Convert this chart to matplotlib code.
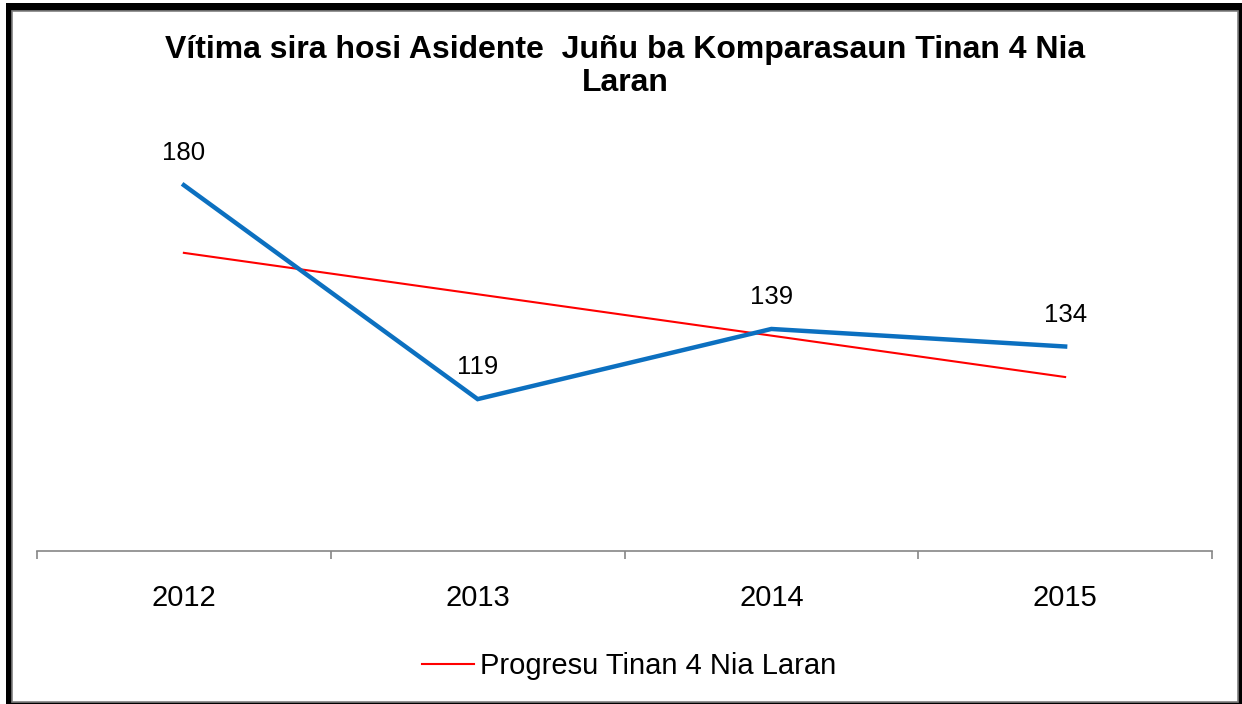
import matplotlib.pyplot as plt
import numpy as np
from matplotlib.patches import Rectangle

plt.rcParams['font.family'] = ['Liberation Sans', 'DejaVu Sans']

# ---------------- data ----------------
years = ['2012', '2013', '2014', '2015']
victims = [180, 119, 139, 134]
trend_label = 'Progresu Tinan 4 Nia Laran'
title = 'Vítima sira hosi Asidente  Juñu ba Komparasaun Tinan 4 Nia\nLaran'

W, H = 1242, 704
fig = plt.figure(figsize=(W / 100, H / 100), dpi=100)

# frame: thick black border with a thin grey inner edge
fig.add_artist(Rectangle((6 / W, -0.05), 1.1, 1 - 3 / H + 0.05,
                         transform=fig.transFigure, facecolor='black',
                         edgecolor='none', zorder=0))
fig.add_artist(Rectangle((12 / W, 1 - 702 / H), (1238 - 12) / W, (702 - 11) / H,
                         transform=fig.transFigure, facecolor='white',
                         edgecolor='#808080', linewidth=1.2, zorder=0))

ax = fig.add_axes([37 / W, 1 - 551 / H, (1212 - 37) / W, (551 - 115) / H])
ax.set_facecolor('none')

x = np.arange(len(years))
ax.plot(x, victims, color='#0C70C0', linewidth=3.2, solid_joinstyle='miter',
        zorder=3)

# linear trend line over the four years
coef = np.polyfit(x, victims, 1)
ax.plot(x, np.polyval(coef, x), color='#FF0000', linewidth=1.5,
        label=trend_label, zorder=2)

for xi, v in zip(x, victims):
    ax.annotate(str(v), (xi, v), xytext=(0, 23), textcoords='offset points',
                ha='center', va='center', fontsize=18.5)

ax.set_xlim(-0.5, len(years) - 0.5)
ax.set_ylim(75.7, 200)
ax.set_xticks(x)
ax.set_xticklabels(years, fontsize=21)
ax.set_xticks(np.arange(-0.5, len(years)), minor=True)
ax.tick_params(axis='x', which='major', length=0, pad=24)
ax.tick_params(axis='x', which='minor', length=6, width=1.2, color='#868686',
               direction='out')
ax.set_yticks([])
for s in ['left', 'right', 'top']:
    ax.spines[s].set_visible(False)
ax.spines['bottom'].set_color('#868686')
ax.spines['bottom'].set_linewidth(1.2)

fig.text(625 / W, 1 - 35 / H, title, ha='center', va='top',
         multialignment='center', fontsize=23, fontweight='bold',
         linespacing=1.15)

fig.legend(loc='center', bbox_to_anchor=(629 / W, 1 - 666 / H), frameon=False,
           fontsize=21, handlelength=1.8, handletextpad=0.2)

fig.savefig('out.png', dpi=100)
